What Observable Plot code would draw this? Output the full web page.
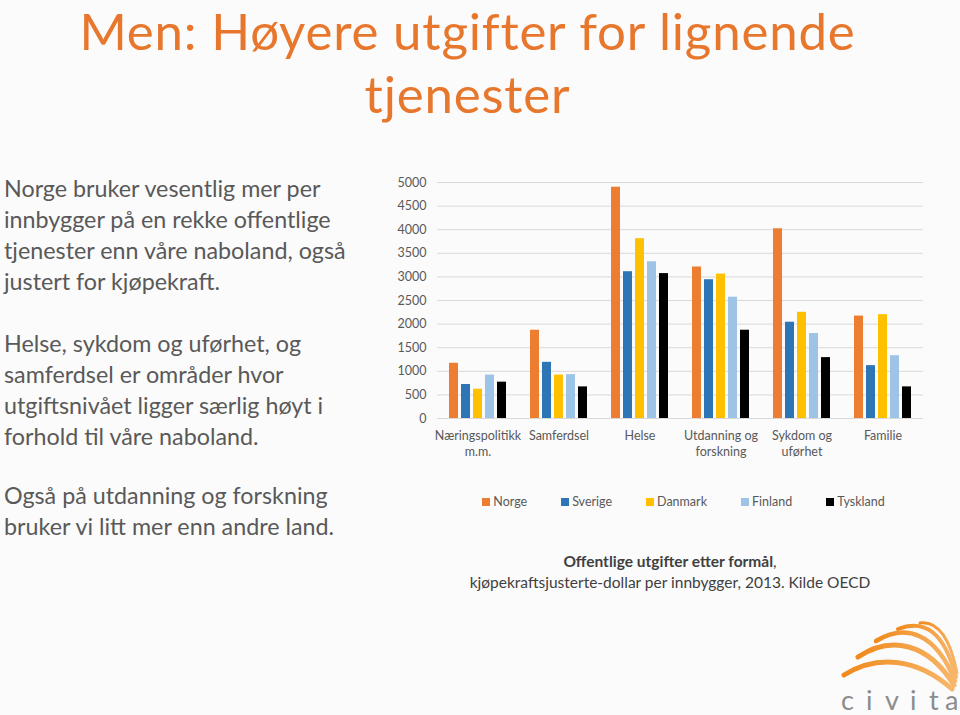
<!DOCTYPE html>
<html>
<head>
<meta charset="utf-8">
<script src="https://cdn.jsdelivr.net/npm/d3@7"></script>
<script src="https://cdn.jsdelivr.net/npm/@observablehq/plot@0.6"></script>
<style>
  html, body { margin: 0; padding: 0; }
  body { width: 960px; height: 715px; background: #fbfbfb; position: relative; overflow: hidden; font-family: Lato, "Open Sans", sans-serif; }
  .title { position: absolute; left: 0; width: 935px; text-align: center; color: #E8772E; font-size: 51px; line-height: 62px; letter-spacing: 0.8px; font-weight: 400; white-space: nowrap; }
  .left { position: absolute; left: 4px; width: 380px; color: #595959; font-size: 23.3px; line-height: 31px; white-space: nowrap; }
  #chart { position: absolute; left: 380px; top: 168px; }
  #legend { position: absolute; left: 435px; width: 497px; top: 494px; display: flex; justify-content: center; gap: 34px; font-size: 12.5px; color: #595959; }
  #legend .item { display: flex; align-items: center; gap: 3px; }
  #legend .sw { width: 8px; height: 8px; display: inline-block; }
  .caption { position: absolute; left: 435px; width: 470px; top: 551px; text-align: center; color: #404040; font-size: 15.5px; line-height: 21px; }
  #logo { position: absolute; left: 836px; top: 615px; }
</style>
</head>
<body>
<div class="title" style="top:0px">Men: Høyere utgifter for lignende</div>
<div class="title" style="top:63px">tjenester</div>
<div class="left" style="top:173px">Norge bruker vesentlig mer per<br>innbygger på en rekke offentlige<br>tjenester enn våre naboland, også<br>justert for kjøpekraft.</div>
<div class="left" style="top:328px">Helse, sykdom og uførhet, og<br>samferdsel er områder hvor<br>utgiftsnivået ligger særlig høyt i<br>forhold til våre naboland.</div>
<div class="left" style="top:480px">Også på utdanning og forskning<br>bruker vi litt mer enn andre land.</div>
<div id="chart"></div>
<div id="legend"></div>
<div class="caption"><b>Offentlige utgifter etter formål</b>,<br>kjøpekraftsjusterte-dollar per innbygger, 2013. Kilde OECD</div>
<svg id="logo" width="124" height="100" viewBox="0 0 124 100">
  <defs>
    <linearGradient id="lg" x1="0" y1="0" x2="1" y2="0">
      <stop offset="0" stop-color="#F08A1C"/>
      <stop offset="1" stop-color="#F7B66A"/>
    </linearGradient>
  </defs>
  <g fill="none" stroke="url(#lg)" stroke-linecap="round">
    <path d="M8 60 C 40 40, 80 42, 116 74" stroke-width="5"/>
    <path d="M22 42 C 55 20, 92 28, 118 70" stroke-width="5"/>
    <path d="M40 26 C 70 8, 100 18, 119 66" stroke-width="4.5"/>
    <path d="M62 14 C 88 4, 108 16, 120 62" stroke-width="4"/>
    <path d="M84 8 C 102 6, 114 22, 121 58" stroke-width="3"/>
  </g>
  <text x="5 30 49 74 93 109" y="95" font-family="Lato, sans-serif" font-size="27" fill="#8c8c8c">civita</text>
</svg>
<script>
const categories = ["Næringspolitikk m.m.", "Samferdsel", "Helse", "Utdanning og forskning", "Sykdom og uførhet", "Familie"];
const categoryLabels = ["Næringspolitikk\nm.m.", "Samferdsel", "Helse", "Utdanning og\nforskning", "Sykdom og\nuførhet", "Familie"];
const countries = ["Norge", "Sverige", "Danmark", "Finland", "Tyskland"];
const colors = ["#ED7D31", "#2E75B6", "#FFC000", "#9DC3E6", "#000000"];
const norge    = [1170, 1870, 4900, 3210, 4020, 2170];
const sverige  = [720, 1190, 3110, 2940, 2040, 1120];
const danmark  = [620, 920, 3810, 3060, 2250, 2200];
const finland  = [920, 930, 3320, 2570, 1800, 1330];
const tyskland = [770, 670, 3070, 1870, 1290, 670];
const yTicks = [0, 500, 1000, 1500, 2000, 2500, 3000, 3500, 4000, 4500, 5000];

const series = [norge, sverige, danmark, finland, tyskland];
const data = [];
categories.forEach((c, i) => countries.forEach((k, j) => data.push({category: c, country: k, value: series[j][i]})));

const chart = Plot.plot({
  width: 560,
  height: 302,
  marginLeft: 55,
  marginRight: 15,
  marginTop: 14,
  marginBottom: 52,
  style: {background: "transparent", fontFamily: "Lato, sans-serif", fontSize: "12px", color: "#595959"},
  fx: {domain: categories, padding: 0, label: null, axis: null},
  x: {domain: countries, padding: 0.23, paddingOuter: 0.91, axis: null},
  y: {domain: [0, 5000], ticks: yTicks, label: null, axis: null},
  color: {domain: countries, range: colors},
  marks: [
    Plot.gridY(yTicks, {stroke: "#d9d9d9", strokeOpacity: 1, strokeWidth: 1}),
    Plot.axisY(yTicks, {tickSize: 0, tickPadding: 11, fontSize: 12.5, fill: "#595959", label: null, tickFormat: d => String(d)}),
    Plot.axisFx({anchor: "bottom", tickSize: 0, tickPadding: 10, fontSize: 12.5, fill: "#595959", label: null, lineHeight: 1.28, tickFormat: d => categoryLabels[categories.indexOf(d)]}),
    Plot.barY(data, {fx: "category", x: "country", y: "value", fill: "country"})
  ]
});
document.getElementById("chart").appendChild(chart);

const legend = document.getElementById("legend");
countries.forEach((k, j) => {
  const item = document.createElement("div");
  item.className = "item";
  const sw = document.createElement("span");
  sw.className = "sw";
  sw.style.background = colors[j];
  const t = document.createElement("span");
  t.textContent = k;
  item.appendChild(sw); item.appendChild(t);
  legend.appendChild(item);
});
</script>
</body>
</html>
